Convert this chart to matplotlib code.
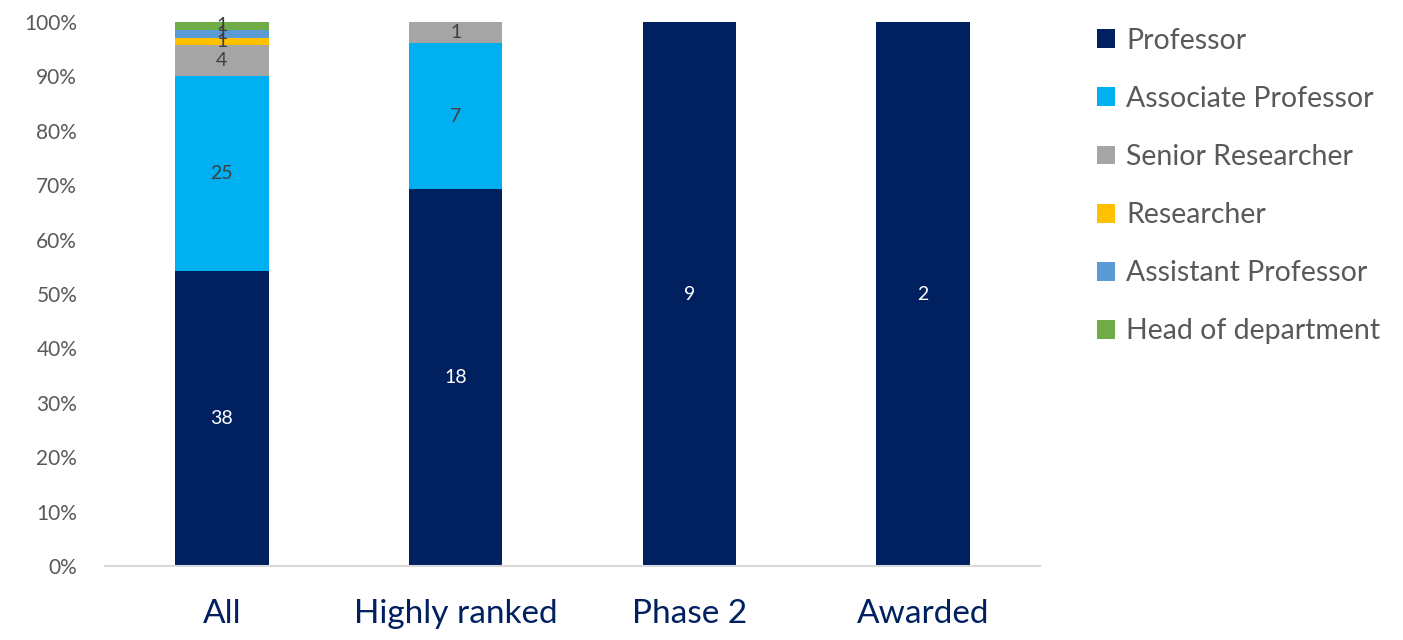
import matplotlib.pyplot as plt
import numpy as np

categories = ["All", "Highly ranked", "Phase 2", "Awarded"]
roles = ["Professor", "Associate Professor", "Senior Researcher",
         "Researcher", "Assistant Professor", "Head of department"]
counts = {
    "Professor": [38, 18, 9, 2],
    "Associate Professor": [25, 7, 0, 0],
    "Senior Researcher": [4, 1, 0, 0],
    "Researcher": [1, 0, 0, 0],
    "Assistant Professor": [1, 0, 0, 0],
    "Head of department": [1, 0, 0, 0],
}
colors = ["#002060", "#00B0F0", "#A5A5A5", "#FFC000", "#5B9BD5", "#70AD47"]
label_colors = ["white", "#404040", "#404040", "#404040", "#404040", "#404040"]

plt.rcParams['font.family'] = ['Lato', 'DejaVu Sans']

fig = plt.figure(figsize=(14.03, 6.4), dpi=100)
ax = fig.add_axes([105 / 1403, 1 - 566 / 640, 935 / 1403, 544 / 640])

x = np.arange(len(categories))
totals = np.sum([counts[r] for r in roles], axis=0)
bottom = np.zeros(len(categories))
handles = []
for role, col, lc in zip(roles, colors, label_colors):
    vals = np.array(counts[role], dtype=float)
    share = vals / totals * 100
    b = ax.bar(x, share, 0.40, bottom=bottom, color=col, label=role)
    handles.append(b)
    for i in range(len(categories)):
        if vals[i] > 0:
            ax.text(x[i], bottom[i] + share[i] / 2, f"{int(vals[i])}",
                    ha='center', va='center', color=lc, fontsize=14)
    bottom += share

ax.set_xlim(-0.5, 3.5)
ax.set_ylim(0, 100)
ax.set_yticks(range(0, 101, 10))
ax.set_yticklabels([f"{v}%" for v in range(0, 101, 10)], color="#595959", fontsize=15)
ax.set_xticks(x)
ax.set_xticklabels(categories, color="#002060", fontsize=24)
ax.tick_params(axis='both', length=0)
ax.tick_params(axis='x', pad=24)
ax.tick_params(axis='y', pad=20)
for s in ['top', 'right', 'left']:
    ax.spines[s].set_visible(False)
ax.spines['bottom'].set_color("#D9D9D9")
ax.spines['bottom'].set_linewidth(1.5)

leg = fig.legend(handles=handles, loc='upper left',
                 bbox_to_anchor=(1071 / 1403, 1 - 2 / 640),
                 frameon=False, fontsize=20.5, labelspacing=1.13,
                 handlelength=0.64, handleheight=0.64, handletextpad=0.4)
for t in leg.get_texts():
    t.set_color("#595959")

fig.savefig("out.png", dpi=100)
